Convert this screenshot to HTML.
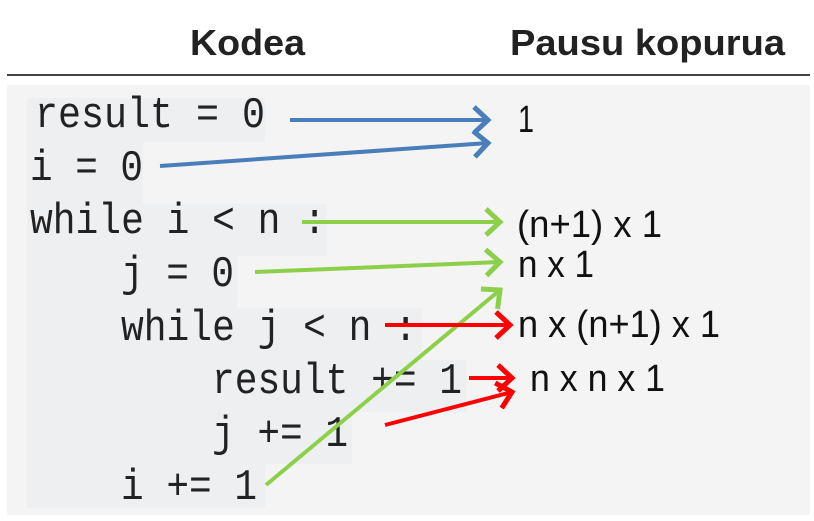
<!DOCTYPE html>
<html><head><meta charset="utf-8"><style>
html,body{margin:0;padding:0;background:#fff;}
body{width:814px;height:521px;position:relative;overflow:hidden;}
svg{position:absolute;left:0;top:0;}
</style></head><body>
<svg width="814" height="521" viewBox="0 0 814 521">
<defs>
<marker id="ab" viewBox="0 0 10 10" refX="0" refY="0" markerWidth="10" markerHeight="10" orient="auto" markerUnits="userSpaceOnUse" style="overflow:visible">
<path d="M-14,-13 L0,0 L-14,13" fill="none" stroke="#4a7ebb" stroke-width="5"/></marker>
<marker id="ag" viewBox="0 0 10 10" refX="0" refY="0" markerWidth="10" markerHeight="10" orient="auto" markerUnits="userSpaceOnUse" style="overflow:visible">
<path d="M-14,-13 L0,0 L-14,13" fill="none" stroke="#8cd04a" stroke-width="5"/></marker>
<marker id="ar" viewBox="0 0 10 10" refX="0" refY="0" markerWidth="10" markerHeight="10" orient="auto" markerUnits="userSpaceOnUse" style="overflow:visible">
<path d="M-14,-13 L0,0 L-14,13" fill="none" stroke="#ff0000" stroke-width="5"/></marker>
</defs>
<text x="190" y="55" textLength="115" lengthAdjust="spacingAndGlyphs" font-family="Liberation Sans, sans-serif" font-weight="bold" font-size="36" fill="#222">Kodea</text>
<text x="510" y="55" textLength="275" lengthAdjust="spacingAndGlyphs" font-family="Liberation Sans, sans-serif" font-weight="bold" font-size="36" fill="#222">Pausu kopurua</text>
<line x1="7" y1="75" x2="810" y2="75" stroke="#444" stroke-width="2"/>
<rect x="7" y="85" width="803" height="430" fill="#f4f4f4"/>
<g fill="#eeeff1">
<rect x="27" y="98" width="238" height="44"/>
<rect x="27" y="142" width="116" height="62"/>
<rect x="27" y="204" width="300" height="52"/>
<rect x="27" y="256" width="210" height="52"/>
<rect x="27" y="308" width="395" height="52"/>
<rect x="27" y="360" width="440" height="52"/>
<rect x="27" y="412" width="325" height="52"/>
<rect x="27" y="464" width="238" height="44"/>
</g>
<g font-family="Liberation Mono, monospace" font-size="44" fill="#222">
<text x="35" y="127" textLength="230" lengthAdjust="spacingAndGlyphs">result = 0</text>
<text x="30" y="180" textLength="113" lengthAdjust="spacingAndGlyphs">i = 0</text>
<text x="30" y="233" textLength="296" lengthAdjust="spacingAndGlyphs">while i &lt; n :</text>
<text x="121" y="286" textLength="113" lengthAdjust="spacingAndGlyphs">j = 0</text>
<text x="121" y="340" textLength="296" lengthAdjust="spacingAndGlyphs">while j &lt; n :</text>
<text x="212" y="393" textLength="250" lengthAdjust="spacingAndGlyphs">result += 1</text>
<text x="212" y="446" textLength="136" lengthAdjust="spacingAndGlyphs">j += 1</text>
<text x="121" y="499" textLength="136" lengthAdjust="spacingAndGlyphs">i += 1</text>
</g>
<g font-family="Liberation Sans, sans-serif" font-size="38" fill="#111">
<text x="518" y="132" textLength="16" lengthAdjust="spacingAndGlyphs">1</text>
<text x="517" y="237" textLength="145" lengthAdjust="spacingAndGlyphs">(n+1) x 1</text>
<text x="518" y="277" textLength="76" lengthAdjust="spacingAndGlyphs">n x 1</text>
<text x="518" y="337" textLength="202" lengthAdjust="spacingAndGlyphs">n x (n+1) x 1</text>
<text x="530" y="391" textLength="135" lengthAdjust="spacingAndGlyphs">n x n x 1</text>
</g>
<g stroke-width="4" fill="none">
<line x1="290" y1="120" x2="488" y2="120" stroke="#4a7ebb" marker-end="url(#ab)"/>
<line x1="160" y1="166" x2="488" y2="143" stroke="#4a7ebb" marker-end="url(#ab)"/>
<line x1="302" y1="222" x2="500" y2="222" stroke="#8cd04a" marker-end="url(#ag)"/>
<line x1="255" y1="272" x2="500" y2="262" stroke="#8cd04a" marker-end="url(#ag)"/>
<line x1="266" y1="485" x2="500" y2="290" stroke="#8cd04a" marker-end="url(#ag)"/>
<line x1="385" y1="325" x2="510" y2="325" stroke="#ff0000" marker-end="url(#ar)"/>
<line x1="469" y1="378" x2="512" y2="378" stroke="#ff0000" marker-end="url(#ar)"/>
<line x1="385" y1="425" x2="512" y2="392" stroke="#ff0000" marker-end="url(#ar)"/>
</g>
</svg>
</body></html>
